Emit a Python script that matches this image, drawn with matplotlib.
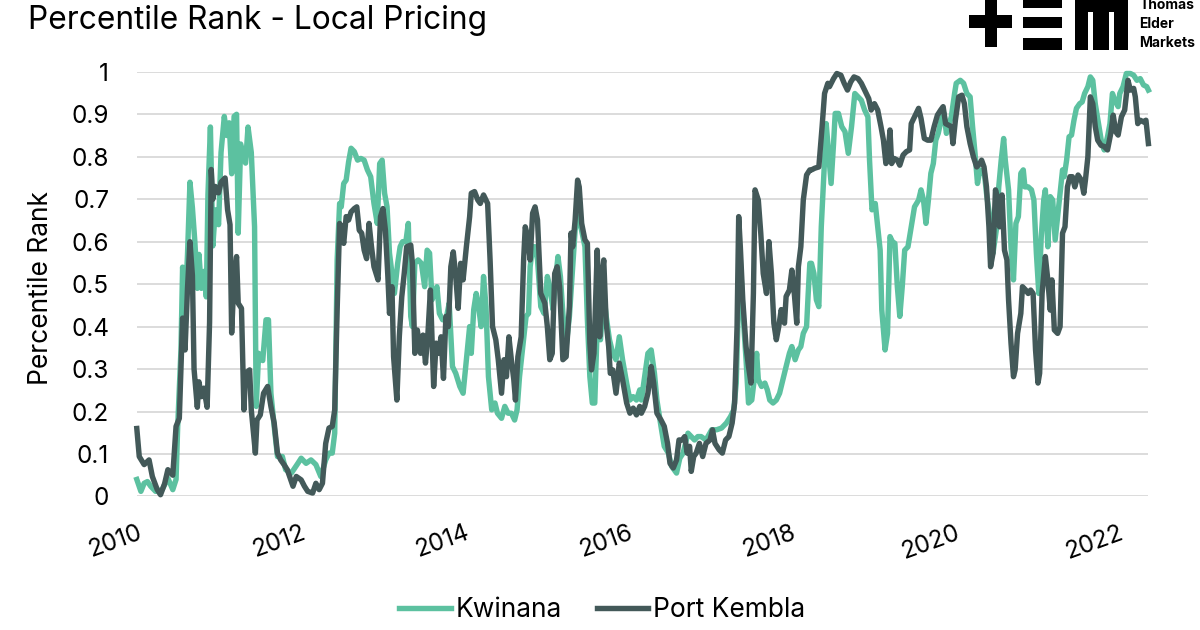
import matplotlib
matplotlib.use('Agg')
import matplotlib.pyplot as plt
from matplotlib.patches import Rectangle

plt.rcParams['font.family'] = ['Inter', 'DejaVu Sans']

# Kwinana (decimal year, percentile rank)
kw_dates = [
    2010.00, 2010.05, 2010.09, 2010.13, 2010.17, 2010.23, 2010.31, 2010.38, 2010.44, 2010.48,
    2010.50, 2010.54, 2010.56, 2010.59, 2010.62, 2010.65, 2010.68, 2010.71, 2010.74, 2010.76,
    2010.79, 2010.82, 2010.85, 2010.87, 2010.90, 2010.93, 2010.96, 2011.00, 2011.03, 2011.07,
    2011.10, 2011.13, 2011.16, 2011.19, 2011.22, 2011.24, 2011.27, 2011.31, 2011.33, 2011.36,
    2011.40, 2011.44, 2011.46, 2011.49, 2011.54, 2011.58, 2011.61, 2011.64, 2011.68, 2011.72,
    2011.78, 2011.82, 2011.89, 2011.97,
    2012.01, 2012.07, 2012.13, 2012.19, 2012.25, 2012.31, 2012.35, 2012.39, 2012.42, 2012.45,
    2012.48, 2012.50, 2012.53, 2012.56, 2012.59, 2012.62, 2012.66, 2012.70, 2012.74, 2012.78,
    2012.82, 2012.86, 2012.90, 2012.94, 2012.97, 2013.00, 2013.03, 2013.06, 2013.09, 2013.12,
    2013.15, 2013.19, 2013.22, 2013.25, 2013.29, 2013.32, 2013.35, 2013.37, 2013.40, 2013.44,
    2013.48, 2013.52, 2013.55, 2013.58, 2013.61, 2013.64, 2013.67, 2013.70, 2013.74, 2013.78,
    2013.82, 2013.86, 2013.90, 2013.95, 2013.99, 2014.03, 2014.07,
    2014.09, 2014.12, 2014.15, 2014.18, 2014.21, 2014.24, 2014.27, 2014.30, 2014.34, 2014.38,
    2014.41, 2014.46, 2014.50, 2014.54, 2014.58, 2014.62, 2014.65, 2014.68, 2014.72, 2014.76,
    2014.79, 2014.81, 2014.84, 2014.87, 2014.90, 2014.94, 2014.98, 2015.02, 2015.05, 2015.09,
    2015.12, 2015.15, 2015.18, 2015.21, 2015.25, 2015.29, 2015.33, 2015.36, 2015.39, 2015.43,
    2015.48, 2015.51, 2015.54, 2015.57, 2015.60, 2015.63, 2015.67, 2015.71, 2015.74, 2015.78,
    2015.82, 2015.86, 2015.90, 2015.94, 2015.99, 2016.03, 2016.07, 2016.11, 2016.15,
    2016.17, 2016.21, 2016.25, 2016.29, 2016.33, 2016.36, 2016.41, 2016.45, 2016.50, 2016.54,
    2016.60, 2016.64, 2016.68, 2016.74, 2016.78, 2016.82, 2016.86, 2016.90, 2016.96, 2017.03,
    2017.09, 2017.15, 2017.21, 2017.26, 2017.30, 2017.33, 2017.36, 2017.38, 2017.41, 2017.45,
    2017.48, 2017.52, 2017.55, 2017.58, 2017.60, 2017.64, 2017.68, 2017.71, 2017.74, 2017.78,
    2017.82, 2017.86, 2017.90, 2017.94, 2017.98, 2018.01, 2018.05, 2018.09, 2018.12, 2018.15,
    2018.19, 2018.21, 2018.23,
    2018.25, 2018.28, 2018.31, 2018.34, 2018.37, 2018.41, 2018.43, 2018.46, 2018.49, 2018.52,
    2018.54, 2018.58, 2018.62, 2018.66, 2018.70, 2018.74, 2018.78, 2018.82, 2018.86, 2018.90,
    2018.94, 2018.96, 2018.99, 2019.03, 2019.06, 2019.09, 2019.11, 2019.15, 2019.18, 2019.21,
    2019.24, 2019.27, 2019.30, 2019.33, 2019.36, 2019.39, 2019.43, 2019.47, 2019.51, 2019.56,
    2019.59, 2019.62, 2019.65, 2019.68, 2019.71, 2019.74, 2019.77, 2019.80, 2019.84, 2019.87,
    2019.90, 2019.93, 2019.96, 2020.00, 2020.02, 2020.07, 2020.11, 2020.15, 2020.19, 2020.22,
    2020.25, 2020.28, 2020.31,
    2020.33, 2020.36, 2020.39, 2020.43, 2020.47, 2020.51, 2020.54, 2020.57, 2020.60, 2020.62,
    2020.66, 2020.69, 2020.72, 2020.75, 2020.78, 2020.81, 2020.84, 2020.86, 2020.90, 2020.94,
    2020.97, 2021.00, 2021.03, 2021.06, 2021.09, 2021.11, 2021.14, 2021.17, 2021.20, 2021.23,
    2021.26, 2021.29, 2021.32, 2021.34, 2021.37, 2021.40, 2021.43, 2021.46, 2021.49, 2021.53,
    2021.56, 2021.59, 2021.63, 2021.66, 2021.69, 2021.72, 2021.76, 2021.80, 2021.83, 2021.87,
    2021.90, 2021.93, 2021.96, 2022.00, 2022.02, 2022.06, 2022.10, 2022.15, 2022.19, 2022.23,
    2022.27, 2022.31, 2022.35, 2022.37,
]
kw_vals = [
    0.040, 0.012, 0.031, 0.035, 0.024, 0.012, 0.016, 0.043, 0.016, 0.040,
    0.165, 0.345, 0.540, 0.440, 0.570, 0.740, 0.680, 0.600, 0.490, 0.570,
    0.490, 0.530, 0.470, 0.710, 0.870, 0.590, 0.675, 0.640, 0.810, 0.895,
    0.850, 0.880, 0.760, 0.895, 0.900, 0.620, 0.830, 0.800, 0.785, 0.870,
    0.810, 0.635, 0.212, 0.337, 0.320, 0.416, 0.416, 0.243, 0.165, 0.094,
    0.094, 0.063, 0.055, 0.078,
    0.090, 0.078, 0.086, 0.075, 0.047, 0.086, 0.102, 0.102, 0.149, 0.557,
    0.690, 0.682, 0.737, 0.745, 0.788, 0.820, 0.812, 0.792, 0.796, 0.792,
    0.769, 0.753, 0.690, 0.643, 0.784, 0.792, 0.714, 0.682, 0.573, 0.525,
    0.478, 0.549, 0.588, 0.600, 0.600, 0.643, 0.424, 0.400, 0.549, 0.557,
    0.549, 0.494, 0.580, 0.573, 0.463, 0.478, 0.494, 0.431, 0.416, 0.416,
    0.455, 0.306, 0.290, 0.259, 0.243, 0.322, 0.400,
    0.337, 0.440, 0.478, 0.447, 0.400, 0.518, 0.447, 0.282, 0.204, 0.220,
    0.196, 0.184, 0.212, 0.196, 0.196, 0.180, 0.204, 0.282, 0.353, 0.424,
    0.431, 0.541, 0.588, 0.588, 0.557, 0.447, 0.431, 0.518, 0.494, 0.440,
    0.510, 0.565, 0.518, 0.431, 0.353, 0.424, 0.541, 0.627, 0.659, 0.635,
    0.588, 0.416, 0.282, 0.220, 0.220, 0.400, 0.369, 0.478, 0.424, 0.369,
    0.337, 0.322, 0.376, 0.322, 0.267, 0.227, 0.235, 0.227, 0.251,
    0.227, 0.282, 0.337, 0.345, 0.290, 0.227, 0.165, 0.118, 0.102, 0.071,
    0.055, 0.090, 0.102, 0.149, 0.141, 0.133, 0.141, 0.141, 0.133, 0.157,
    0.157, 0.161, 0.173, 0.188, 0.204, 0.267, 0.478, 0.557, 0.440, 0.322,
    0.220, 0.227, 0.275, 0.337, 0.275, 0.259, 0.267, 0.251, 0.227, 0.220,
    0.227, 0.243, 0.275, 0.306, 0.337, 0.353, 0.322, 0.345, 0.353, 0.384,
    0.400, 0.478, 0.549,
    0.549, 0.525, 0.463, 0.447, 0.635, 0.792, 0.878, 0.808, 0.737, 0.831,
    0.902, 0.902, 0.871, 0.859, 0.808, 0.871, 0.949, 0.941, 0.933, 0.910,
    0.894, 0.792, 0.675, 0.690, 0.635, 0.580, 0.439, 0.345, 0.384, 0.612,
    0.600, 0.596, 0.494, 0.424, 0.494, 0.580, 0.588, 0.635, 0.682, 0.698,
    0.722, 0.698, 0.643, 0.698, 0.761, 0.784, 0.839, 0.855, 0.890, 0.902,
    0.855, 0.875, 0.894, 0.949, 0.973, 0.980, 0.973, 0.949, 0.941, 0.871,
    0.808, 0.737, 0.769,
    0.761, 0.769, 0.714, 0.659, 0.573, 0.627, 0.729, 0.792, 0.843, 0.792,
    0.722, 0.588, 0.510, 0.643, 0.659, 0.761, 0.769, 0.729, 0.729, 0.722,
    0.698, 0.573, 0.478, 0.612, 0.698, 0.722, 0.588, 0.706, 0.698, 0.604,
    0.659, 0.714, 0.769, 0.753, 0.792, 0.847, 0.851, 0.886, 0.914, 0.925,
    0.929, 0.949, 0.965, 0.988, 0.980, 0.925, 0.878, 0.831, 0.816, 0.847,
    0.878, 0.949, 0.933, 0.918, 0.949, 0.965, 0.996, 0.996, 0.992, 0.980,
    0.984, 0.969, 0.965, 0.957,
]

# Port Kembla (decimal year, percentile rank)
pk_dates = [
    2010.00, 2010.03, 2010.09, 2010.15, 2010.19, 2010.25, 2010.29, 2010.34, 2010.38, 2010.44,
    2010.48, 2010.52, 2010.56, 2010.59, 2010.62, 2010.65, 2010.68, 2010.70, 2010.74, 2010.76,
    2010.79, 2010.82, 2010.86, 2010.89, 2010.91, 2010.93, 2010.96, 2011.00, 2011.03, 2011.08,
    2011.11, 2011.14, 2011.16, 2011.19, 2011.22, 2011.24, 2011.28, 2011.31, 2011.33, 2011.38,
    2011.40, 2011.45, 2011.47, 2011.51, 2011.55, 2011.60, 2011.64, 2011.68, 2011.72, 2011.76,
    2011.80, 2011.84, 2011.91, 2011.95,
    2012.01, 2012.05, 2012.09, 2012.15, 2012.19, 2012.23, 2012.27, 2012.31, 2012.35, 2012.39,
    2012.42, 2012.45, 2012.48, 2012.50, 2012.53, 2012.56, 2012.59, 2012.62, 2012.66, 2012.69,
    2012.72, 2012.75, 2012.78, 2012.81, 2012.84, 2012.87, 2012.90, 2012.95, 2012.98, 2013.01,
    2013.04, 2013.07, 2013.09, 2013.12, 2013.14, 2013.18, 2013.21, 2013.24, 2013.27, 2013.30,
    2013.35, 2013.37, 2013.40, 2013.43, 2013.47, 2013.50, 2013.53, 2013.56, 2013.59, 2013.63,
    2013.66, 2013.69, 2013.72, 2013.75, 2013.78, 2013.81, 2013.84, 2013.87, 2013.90, 2013.93,
    2013.96, 2013.99, 2014.03, 2014.07,
    2014.09, 2014.13, 2014.17, 2014.20, 2014.24, 2014.29, 2014.32, 2014.35, 2014.39, 2014.42,
    2014.46, 2014.49, 2014.52, 2014.55, 2014.58, 2014.61, 2014.63, 2014.66, 2014.70, 2014.73,
    2014.75, 2014.78, 2014.81, 2014.84, 2014.87, 2014.90, 2014.94, 2014.99, 2015.02, 2015.05,
    2015.08, 2015.11, 2015.14, 2015.17, 2015.21, 2015.25, 2015.29, 2015.31, 2015.33, 2015.36,
    2015.39, 2015.41, 2015.44, 2015.48, 2015.51, 2015.54, 2015.56, 2015.59, 2015.63, 2015.66,
    2015.69, 2015.71, 2015.74, 2015.77, 2015.79, 2015.82, 2015.86, 2015.90, 2015.94, 2015.99,
    2016.03, 2016.07, 2016.11, 2016.15,
    2016.17, 2016.21, 2016.25, 2016.29, 2016.32, 2016.36, 2016.41, 2016.45, 2016.49, 2016.52,
    2016.56, 2016.60, 2016.63, 2016.67, 2016.70, 2016.73, 2016.76, 2016.78, 2016.81, 2016.84,
    2016.88, 2016.92, 2016.96, 2017.01, 2017.04, 2017.07, 2017.12, 2017.16, 2017.20, 2017.24,
    2017.28, 2017.31, 2017.34, 2017.36, 2017.38, 2017.41, 2017.45, 2017.48, 2017.51, 2017.54,
    2017.56, 2017.60, 2017.63, 2017.66, 2017.70, 2017.73, 2017.76, 2017.79, 2017.82, 2017.85,
    2017.88, 2017.92, 2017.94, 2017.98, 2018.01, 2018.04, 2018.07, 2018.09, 2018.12, 2018.15,
    2018.19, 2018.23,
    2018.25, 2018.29, 2018.34, 2018.38, 2018.41, 2018.45, 2018.47, 2018.52, 2018.56, 2018.61,
    2018.65, 2018.69, 2018.73, 2018.77, 2018.82, 2018.86, 2018.91, 2018.95, 2018.98, 2019.02,
    2019.06, 2019.10, 2019.13, 2019.16, 2019.18, 2019.21, 2019.23, 2019.26, 2019.30, 2019.33,
    2019.37, 2019.41, 2019.45, 2019.47, 2019.51, 2019.56, 2019.59, 2019.63, 2019.67, 2019.71,
    2019.75, 2019.79, 2019.83, 2019.86, 2019.89, 2019.92, 2019.96, 2019.98, 2020.01, 2020.05,
    2020.09, 2020.12, 2020.15, 2020.19, 2020.23, 2020.27, 2020.31,
    2020.33, 2020.36, 2020.39, 2020.42, 2020.44, 2020.47, 2020.50, 2020.53, 2020.55, 2020.58,
    2020.61, 2020.64, 2020.66, 2020.69, 2020.72, 2020.74, 2020.77, 2020.81, 2020.83, 2020.87,
    2020.90, 2020.93, 2020.96, 2020.99, 2021.02, 2021.04, 2021.07, 2021.11, 2021.14, 2021.17,
    2021.19, 2021.22, 2021.26, 2021.29, 2021.32, 2021.35, 2021.38, 2021.41, 2021.44, 2021.47,
    2021.51, 2021.55, 2021.58, 2021.60, 2021.63, 2021.66, 2021.69, 2021.72, 2021.75, 2021.79,
    2021.83, 2021.87, 2021.91, 2021.94, 2021.97, 2022.00, 2022.04, 2022.08, 2022.12, 2022.15,
    2022.19, 2022.21, 2022.24, 2022.27, 2022.31, 2022.34, 2022.37,
]
pk_vals = [
    0.160, 0.094, 0.075, 0.086, 0.047, 0.016, 0.004, 0.030, 0.063, 0.050,
    0.165, 0.184, 0.420, 0.345, 0.490, 0.600, 0.520, 0.300, 0.210, 0.270,
    0.235, 0.255, 0.210, 0.410, 0.770, 0.700, 0.730, 0.715, 0.740, 0.750,
    0.675, 0.640, 0.385, 0.520, 0.565, 0.455, 0.443, 0.204, 0.290, 0.298,
    0.204, 0.102, 0.180, 0.192, 0.243, 0.259, 0.212, 0.173, 0.102, 0.086,
    0.075, 0.063, 0.024, 0.047,
    0.039, 0.024, 0.012, 0.008, 0.031, 0.016, 0.031, 0.125, 0.161, 0.165,
    0.204, 0.440, 0.643, 0.635, 0.596, 0.659, 0.651, 0.670, 0.678, 0.682,
    0.627, 0.620, 0.580, 0.560, 0.643, 0.588, 0.541, 0.510, 0.659, 0.678,
    0.627, 0.518, 0.431, 0.494, 0.329, 0.227, 0.376, 0.470, 0.525, 0.588,
    0.592, 0.549, 0.337, 0.392, 0.337, 0.380, 0.314, 0.384, 0.486, 0.259,
    0.361, 0.337, 0.376, 0.278, 0.424, 0.400, 0.541, 0.576, 0.518, 0.443,
    0.549, 0.510, 0.588, 0.659,
    0.714, 0.718, 0.698, 0.690, 0.710, 0.690, 0.557, 0.400, 0.369, 0.322,
    0.243, 0.322, 0.282, 0.376, 0.322, 0.275, 0.227, 0.329, 0.376, 0.557,
    0.635, 0.612, 0.557, 0.667, 0.682, 0.651, 0.478, 0.455, 0.400, 0.322,
    0.337, 0.525, 0.541, 0.494, 0.322, 0.329, 0.447, 0.620, 0.588, 0.651,
    0.745, 0.729, 0.643, 0.604, 0.596, 0.361, 0.298, 0.337, 0.580, 0.376,
    0.525, 0.557, 0.408, 0.353, 0.290, 0.298, 0.243, 0.314, 0.275, 0.220,
    0.196, 0.208, 0.192, 0.212,
    0.196, 0.212, 0.243, 0.306, 0.267, 0.196, 0.180, 0.165, 0.125, 0.078,
    0.067, 0.086, 0.133, 0.133, 0.141, 0.102, 0.118, 0.059, 0.094, 0.102,
    0.125, 0.094, 0.125, 0.133, 0.157, 0.125, 0.110, 0.102, 0.133, 0.141,
    0.173, 0.220, 0.400, 0.659, 0.588, 0.463, 0.353, 0.306, 0.267, 0.478,
    0.722, 0.698, 0.620, 0.525, 0.478, 0.600, 0.525, 0.408, 0.369, 0.400,
    0.440, 0.408, 0.471, 0.486, 0.533, 0.478, 0.408, 0.541, 0.588, 0.698,
    0.757, 0.769,
    0.769, 0.773, 0.776, 0.871, 0.949, 0.973, 0.965, 0.984, 0.996, 0.992,
    0.973, 0.957, 0.976, 0.988, 0.984, 0.973, 0.953, 0.937, 0.910, 0.925,
    0.910, 0.871, 0.839, 0.784, 0.792, 0.863, 0.784, 0.796, 0.792, 0.780,
    0.804, 0.812, 0.816, 0.878, 0.894, 0.914, 0.890, 0.843, 0.839, 0.839,
    0.871, 0.898, 0.910, 0.918, 0.878, 0.875, 0.871, 0.831, 0.886, 0.941,
    0.945, 0.925, 0.871, 0.831, 0.800, 0.776, 0.784,
    0.792, 0.776, 0.729, 0.635, 0.541, 0.573, 0.722, 0.698, 0.635, 0.710,
    0.580, 0.557, 0.463, 0.361, 0.282, 0.298, 0.384, 0.431, 0.494, 0.486,
    0.478, 0.486, 0.478, 0.345, 0.267, 0.290, 0.478, 0.565, 0.510, 0.439,
    0.510, 0.392, 0.384, 0.400, 0.620, 0.635, 0.729, 0.753, 0.753, 0.729,
    0.757, 0.745, 0.714, 0.745, 0.800, 0.941, 0.925, 0.871, 0.839, 0.827,
    0.824, 0.816, 0.855, 0.898, 0.859, 0.851, 0.894, 0.910, 0.980, 0.957,
    0.961, 0.941, 0.878, 0.886, 0.882, 0.886, 0.831,
]

y_ticks = [0, 0.1, 0.2, 0.3, 0.4, 0.5, 0.6, 0.7, 0.8, 0.9, 1.0]
y_tick_labels = ['0', '0.1', '0.2', '0.3', '0.4', '0.5', '0.6', '0.7', '0.8', '0.9', '1']
x_ticks = [2010, 2012, 2014, 2016, 2018, 2020, 2022]

kw_color = '#5cc1a0'
pk_color = '#435959'

fig = plt.figure(figsize=(12, 6.3), dpi=100)
ax = fig.add_axes([0.114, 0.212, 0.843, 0.674])

ax.plot(kw_dates, kw_vals, color=kw_color, lw=3.9, label='Kwinana', clip_on=False, zorder=3)
ax.plot(pk_dates, pk_vals, color=pk_color, lw=3.9, label='Port Kembla', clip_on=False, zorder=4)

ax.set_xlim(2010, 2022.37)
ax.set_ylim(0, 1)
ax.set_yticks(y_ticks)
ax.set_yticklabels(y_tick_labels)
ax.set_xticks(x_ticks)
ax.set_xticklabels([str(t) for t in x_ticks], rotation=20, ha='right', rotation_mode='anchor')
ax.tick_params(axis='both', length=0, labelsize=17.5)
ax.tick_params(axis='y', pad=20)
ax.tick_params(axis='x', pad=18)
ax.grid(axis='y', color='#d9d9d9', lw=1.3)
ax.set_axisbelow(True)
for s in ax.spines.values():
    s.set_visible(False)

ax.set_ylabel('Percentile Rank', fontsize=19)
ax.yaxis.set_label_coords(-0.082, 0.49)

fig.text(0.023, 0.968, 'Percentile Rank - Local Pricing', fontsize=22.8, va='center', ha='left')

leg = fig.legend(loc='center', bbox_to_anchor=(0.502, 0.032), ncol=2, frameon=False,
                 fontsize=19, handlelength=1.95, columnspacing=1.3, handletextpad=0.2)

# logo, drawn in pixel units of its own box
lg = fig.add_axes([960 / 1200, 1 - 60 / 630, 240 / 1200, 60 / 630])
lg.set_xlim(0, 240)
lg.set_ylim(60, 0)
lg.axis('off')
for (x, y, w, h) in [(9, 15, 43, 13), (25, 0, 12, 47),
                     (63, 0, 39, 8), (63, 17, 39, 11), (63, 38, 39, 12),
                     (115, 0, 53, 12), (115, 0, 13, 50), (133, 0, 16, 50), (154, 0, 14, 50)]:
    lg.add_patch(Rectangle((x, y), w, h, color='black', lw=0))
for i, word in enumerate(['Thomas', 'Elder', 'Markets']):
    lg.text(179, 5 + i * 19, word, fontsize=10, fontweight='bold', va='center', ha='left')

fig.savefig('out.png', dpi=100)
